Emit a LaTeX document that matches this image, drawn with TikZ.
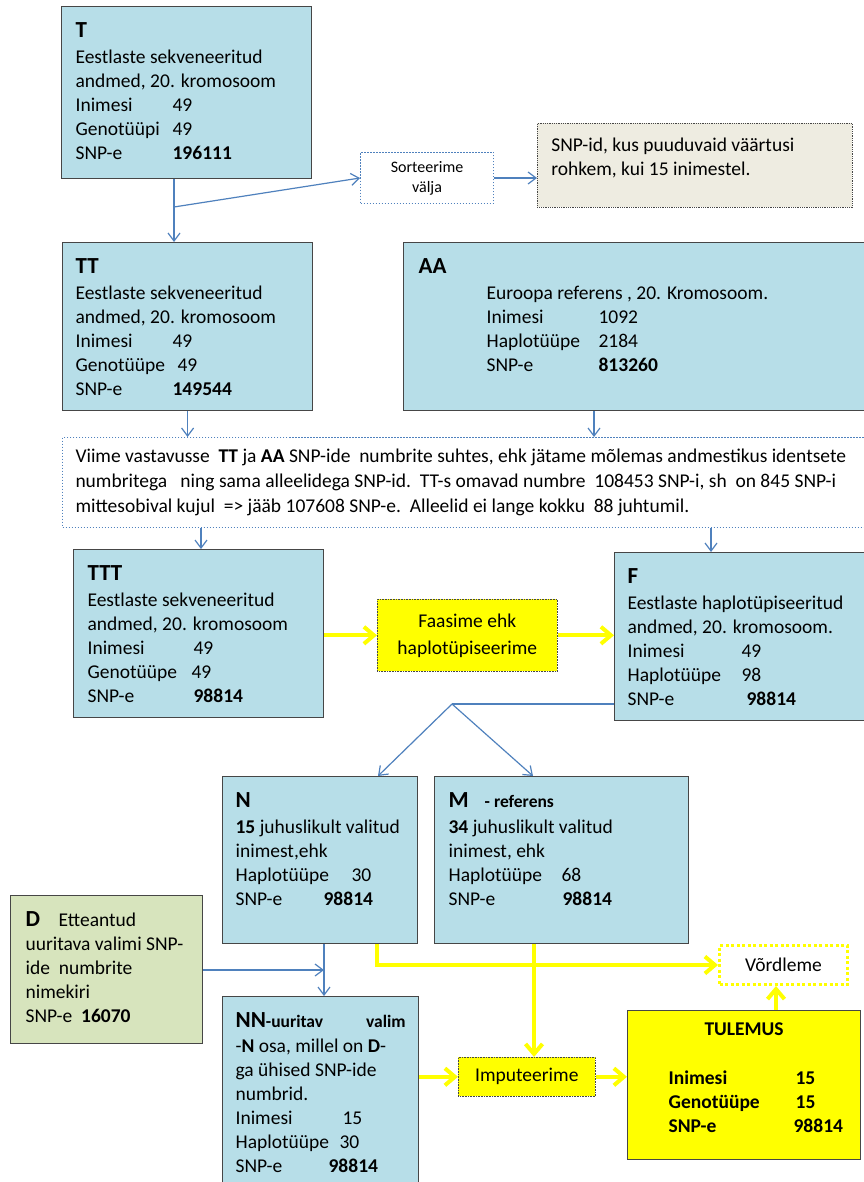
\documentclass[tikz,border=0pt]{standalone}
\usepackage{fontspec}
\setmainfont{Carlito}
\usepackage{xcolor}
\definecolor{boxblue}{RGB}{183,222,232}
\definecolor{notegrey}{RGB}{238,236,225}
\definecolor{listgreen}{RGB}{215,228,189}
\definecolor{hiyellow}{RGB}{255,255,0}
\definecolor{flowblue}{RGB}{79,129,189}
\definecolor{edgegray}{RGB}{70,70,70}
\usepackage{tikz}
\usetikzlibrary{positioning,calc,arrows.meta}
\newcommand{\boxtext}[3]{\parbox[t][#2pt][t]{#1pt}{\raggedright #3}}
\newcommand{\hdtitle}[1]{\rule{0pt}{31pt}{\fontsize{23}{24}\selectfont\bfseries #1}}
\newcommand{\hdsmall}[1]{{\fontsize{17.5}{24}\selectfont\bfseries #1}}
\newcommand{\tabcol}[2]{\makebox[#1pt][l]{#2}}
\tikzset{
  databox/.style={rectangle,draw=edgegray,line width=1.2pt,fill=boxblue,
    anchor=north west,inner xsep=13pt,inner ysep=0pt,
    font=\fontsize{19.5}{24}\selectfont},
  notebox/.style={databox,fill=notegrey,line width=0.8pt,densely dotted},
  listbox/.style={databox,fill=listgreen},
  resbox/.style={databox,fill=hiyellow,inner xsep=41pt},
  actbox/.style={rectangle,draw=edgegray,line width=0.6pt,densely dotted,
    fill=hiyellow,anchor=north west,align=center,inner sep=0pt,
    font=\fontsize{19.5}{27}\selectfont},
  sortbox/.style={rectangle,draw=flowblue,line width=1pt,dash pattern=on 1.5pt off 1.5pt,
    fill=white,anchor=north west,align=center,inner sep=0pt,
    font=\fontsize{16}{20}\selectfont},
  matchbox/.style={databox,draw=flowblue,line width=1pt,dash pattern=on 1.5pt off 1.5pt,
    fill=white,font=\fontsize{19.5}{25}\selectfont},
  cmpbox/.style={rectangle,draw=hiyellow,line width=3pt,dash pattern=on 3pt off 2.5pt,
    fill=white,anchor=north west,inner sep=0pt,font=\fontsize{19.5}{24}\selectfont},
  fl/.style={-{Straight Barb[length=8pt,width=12pt]},draw=flowblue,line width=1.2pt},
  yl/.style={-{Straight Barb[length=10pt,width=17pt]},draw=hiyellow,line width=4pt},
}

\begin{document}
\begin{tikzpicture}[x=1pt,y=-1pt]
  \path[use as bounding box,fill=white] (0,0) rectangle (863,1182);
  \node[databox,inner xsep=14pt] (t) at (61,6) {\boxtext{222}{172}{\hdtitle{T}\\[2pt]
    Eestlaste sekveneeritud\\andmed, 20. kromosoom\\
    \tabcol{97}{Inimesi}49\\\tabcol{97}{Genotüüpi}49\\\tabcol{97}{SNP-e}\textbf{196111}}};
  \node[sortbox,minimum width=133pt,minimum height=51pt] (sort) at (360,152) {Sorteerime\\välja};
  \node[notebox,inner xsep=14pt] (miss) at (537,123) {\boxtext{287}{84}{\rule{0pt}{28pt}SNP-id, kus puuduvaid väärtusi\\
    rohkem, kui 15 inimestel.}};
  \node[databox] (tt) at (62,242) {\boxtext{224}{168}{\hdtitle{TT}\\[2pt]
    Eestlaste sekveneeritud\\andmed, 20. kromosoom\\
    \tabcol{97}{Inimesi}49\\\tabcol{102}{Genotüüpe}49\\\tabcol{97}{SNP-e}\textbf{149544}}};
  \node[databox,inner xsep=15pt] (aa) at (403,242) {\boxtext{440}{168}{\hdtitle{AA}\\[2pt]
    \hspace*{68pt}Euroopa referens , 20. Kromosoom.\\
    \hspace*{68pt}\tabcol{112}{Inimesi}1092\\
    \hspace*{68pt}\tabcol{112}{Haplotüüpe}2184\\
    \hspace*{68pt}\tabcol{112}{SNP-e}\textbf{813260}}};
  % vastavusse viimine
  \node[matchbox] (match) at (62,437) {\boxtext{790}{90}{\rule{0pt}{24.5pt}%
    Viime vastavusse\ \ \textbf{TT} ja \textbf{AA} SNP-ide\ \ numbrite suhtes, ehk jätame mõlemas andmestikus identsete\\
    numbritega\ \ \ ning sama alleelidega SNP-id.\ \ TT-s omavad numbre\ \ 108453 SNP-i, sh\ \ on 845 SNP-i\\
    mittesobival kujul\ \ => jääb 107608 SNP-e.\ \ Alleelid ei lange kokku\ \ 88 juhtumil.}};
  \node[databox,inner xsep=14pt] (ttt) at (73,549) {\boxtext{222}{168}{\hdtitle{TTT}\\[2pt]
    Eestlaste sekveneeritud\\andmed, 20. kromosoom\\
    \tabcol{106}{Inimesi}49\\\tabcol{104}{Genotüüpe}49\\\tabcol{106}{SNP-e}\textbf{98814}}};
  \node[actbox,minimum width=180pt,minimum height=72pt] (phase) at (377,599) {Faasime ehk\\haplotüpiseerime};
  \node[databox] (f) at (614,552) {\boxtext{224}{168}{\hdtitle{F}\\[2pt]
    Eestlaste haplotüpiseeritud\\andmed, 20. kromosoom.\\
    \tabcol{114}{Inimesi}49\\\tabcol{114}{Haplotüüpe}98\\\tabcol{119}{SNP-e}\textbf{98814}}};
  \node[databox] (n) at (222,776) {\boxtext{169}{167}{\hdtitle{N}\\[2pt]
    \mbox{\textbf{15} juhuslikult valitud}\\inimest,ehk\\
    \tabcol{116}{Haplotüüpe}30\\\tabcol{88}{SNP-e}\textbf{98814}}};
  \node[databox,inner xsep=14pt] (m) at (434,776) {\boxtext{226}{167}{\hdtitle{M}\hspace{16pt}\hdsmall{- referens}\\[2pt]
    \textbf{34} juhuslikult valitud\\inimest, ehk\\
    \tabcol{113}{Haplotüüpe}68\\\tabcol{114}{SNP-e}\textbf{98814}}};
  \node[listbox,inner xsep=15pt] (d) at (10,895) {\boxtext{162}{148}{\hdtitle{\makebox[33pt][l]{D}}Etteantud\\
    \mbox{uuritava valimi SNP-}\\ide\ \ numbrite\\nimekiri\\SNP-e\ \ \textbf{16070}}};
  \node[databox] (nn) at (222,996) {\boxtext{170}{200}{\hdtitle{NN}\hdsmall{-uuritav\hfill valim}\\[1pt]
    -\textbf{N} osa, millel on \textbf{D}-\\ga ühised SNP-ide\\numbrid.\\
    \tabcol{107}{Inimesi}15\\\tabcol{104}{Haplotüüpe}30\\\tabcol{93}{SNP-e}\textbf{98814}}};
  \node[actbox,minimum width=137pt,minimum height=39pt] (impute) at (458,1057) {Imputeerime};
  \node[resbox] (result) at (627,1010) {\boxtext{151}{149}{\rule{0pt}{25pt}%
    \makebox[\linewidth][c]{\textbf{TULEMUS}}\\[25pt]
    \textbf{\tabcol{127}{Inimesi}15}\\\textbf{\tabcol{127}{Genotüüpe}15}\\\textbf{\tabcol{125}{SNP-e}98814}}};
  \node[cmpbox,minimum width=128pt,minimum height=39pt] (cmp) at (718,944) {Võrdleme};

  % nooled
  \coordinate (tsplit) at (174,207);
  \coordinate (aaout) at (594,410);
  \coordinate (tttin) at (201,549);
  \coordinate (fin) at (711,552);
  \coordinate (fsplit) at (452,704);
  \coordinate (nin) at (378,776);
  \coordinate (min) at (533,776);
  \coordinate (nnx) at (324,970);
  \coordinate (nout) at (377,965);
  \coordinate (mout) at (534,943);
  \coordinate (cmpx) at (776,1010);
  \draw[fl] (t.south -| tsplit) -- (tt.north -| tsplit);
  \draw[fl] (tsplit) -- (sort.west);
  \draw[fl] (sort.east) -- (sort.east -| miss.west);
  \draw[fl] (tt.south) -- (tt.south |- match.north);
  \draw[fl] (aa.south -| aaout) -- (match.north -| aaout);
  \draw[fl] (match.south -| tttin) -- (ttt.north -| tttin);
  \draw[fl] (match.south -| fin) -- (f.north -| fin);
  \draw[yl] (ttt.east |- phase.west) -- (phase.west);
  \draw[yl] (phase.east) -- (phase.east -| f.west);
  \draw[flowblue,line width=1.2pt] (f.west |- fsplit) -- (fsplit);
  \foreach \a/\b in {n/nin,m/min}{\draw[fl] (fsplit) -- (\a.north -| \b);}
  \draw[fl] (n.south -| nnx) -- (nn.north -| nnx);
  \draw[fl] (d.east |- nnx) -- (nnx);
  \draw[yl] (n.south -| nout) -- (nout) -- (cmp.west |- nout);
  \draw[yl] (m.south -| mout) -- (impute.north -| mout);
  \draw[yl] (nn.east |- impute.west) -- (impute.west);
  \draw[yl] (impute.east) -- (impute.east -| result.west);
  \draw[yl] (result.north -| cmpx) -- (cmp.south -| cmpx);
\end{tikzpicture}
\end{document}
